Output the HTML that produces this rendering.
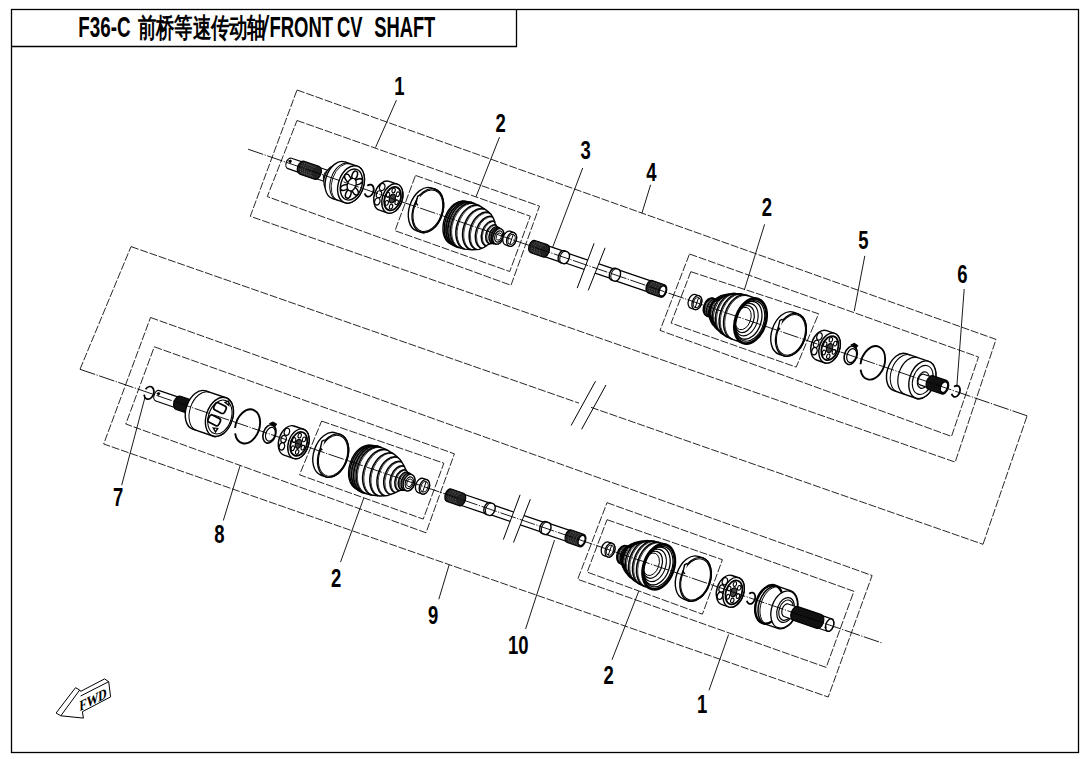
<!DOCTYPE html>
<html><head><meta charset="utf-8"><style>
html,body{margin:0;padding:0;background:#fff;}
svg{display:block;}
.lb{font-family:"Liberation Sans",sans-serif;font-weight:bold;font-size:25px;fill:#000;}
.ttl{font-family:"Liberation Sans",sans-serif;font-weight:bold;font-size:29px;fill:#000;}
.fwd{font-family:"Liberation Serif",serif;font-weight:bold;font-size:15px;fill:#000;}
</style></head><body>
<svg width="1090" height="759" viewBox="0 0 1090 759">
<rect width="1090" height="759" fill="#fff"/>
<text transform="translate(78.3,37) scale(0.649,1)" class="ttl">F36-C</text>
<text transform="translate(137.6,36.6) scale(0.681,1)" class="ttl" style="font-size:27px;font-weight:bold">前桥等速传动轴</text>
<text transform="translate(261.7,37) scale(0.95,1)" class="ttl" style="font-weight:normal">/</text>
<text transform="translate(269.4,37) scale(0.638,1)" class="ttl">FRONT</text>
<text transform="translate(337,37) scale(0.632,1)" class="ttl">CV</text>
<text transform="translate(374.2,37) scale(0.632,1)" class="ttl">SHAFT</text>
<rect x="11.5" y="9.5" width="1067" height="743" fill="none" stroke="#000" stroke-width="1.3"/>
<path d="M11.5,46.5 H516.5 V9.5" fill="none" stroke="#000" stroke-width="1.3"/>
<path d="M297,90 L996,339.4 L955.2,462.1 L250.3,216.3 Z" fill="none" stroke="#000" stroke-width="0.85" stroke-dasharray="8 1.8"/>
<path d="M297,120.5 L539.5,206.1 L511,285.3 L267.3,196.6 Z" fill="none" stroke="#000" stroke-width="0.85" stroke-dasharray="8 1.8"/>
<path d="M415.5,175.4 L530.3,216.2 L509.7,271.5 L395,230.7 Z" fill="none" stroke="#000" stroke-width="0.85" stroke-dasharray="8 1.8"/>
<path d="M689.5,254 L978.5,357 L951.5,436.4 L660,330.4 Z" fill="none" stroke="#000" stroke-width="0.85" stroke-dasharray="8 1.8"/>
<path d="M690.8,271.7 L818.6,313.8 L796.2,367.1 L671.1,323.1 Z" fill="none" stroke="#000" stroke-width="0.85" stroke-dasharray="8 1.8"/>
<path d="M150.5,317.5 L872.1,575.5 L828.2,697 L103.7,444 Z" fill="none" stroke="#000" stroke-width="0.85" stroke-dasharray="8 1.8"/>
<path d="M154.3,346.8 L454.4,453.8 L426,532.8 L125.8,424 Z" fill="none" stroke="#000" stroke-width="0.85" stroke-dasharray="8 1.8"/>
<path d="M321.6,421.1 L443.9,463.2 L423.2,519.1 L299.5,474.8 Z" fill="none" stroke="#000" stroke-width="0.85" stroke-dasharray="8 1.8"/>
<path d="M607,502.7 L853.9,591.3 L826.2,667.4 L577.7,579.3 Z" fill="none" stroke="#000" stroke-width="0.85" stroke-dasharray="8 1.8"/>
<path d="M607,519.7 L722.4,559.7 L702.4,614.2 L587.2,572.1 Z" fill="none" stroke="#000" stroke-width="0.85" stroke-dasharray="8 1.8"/>
<path d="M80,369.3 L131,246.6" fill="none" stroke="#000" stroke-width="0.85" stroke-dasharray="8 1.8"/>
<path d="M131,246.6 L579,403.14" fill="none" stroke="#000" stroke-width="0.85" stroke-dasharray="8 1.8"/>
<path d="M591,407.33 L983,544.3" fill="none" stroke="#000" stroke-width="0.85" stroke-dasharray="8 1.8"/>
<path d="M983,544.3 L1027.1,415.8" fill="none" stroke="#000" stroke-width="0.85" stroke-dasharray="8 1.8"/>
<line x1="595.5" y1="381.2" x2="571.1" y2="425.5" stroke="#000" stroke-width="1" />
<line x1="606" y1="385" x2="581.6" y2="429.3" stroke="#000" stroke-width="1" />
<line x1="396.4" y1="100.2" x2="375.5" y2="147.6" stroke="#000" stroke-width="0.9" />
<line x1="499.5" y1="137.1" x2="476" y2="196.9" stroke="#000" stroke-width="0.9" />
<line x1="582.7" y1="168" x2="552.8" y2="246.9" stroke="#000" stroke-width="0.9" />
<line x1="650.6" y1="184.8" x2="641.9" y2="213.2" stroke="#000" stroke-width="0.9" />
<line x1="764.6" y1="224.3" x2="744.3" y2="290.1" stroke="#000" stroke-width="0.9" />
<line x1="864.8" y1="255.9" x2="854.2" y2="311.2" stroke="#000" stroke-width="0.9" />
<line x1="964.2" y1="289" x2="956.8" y2="386.8" stroke="#000" stroke-width="0.9" />
<line x1="121.7" y1="485.2" x2="144.8" y2="398" stroke="#000" stroke-width="0.9" />
<line x1="223.3" y1="520.5" x2="240.2" y2="465.4" stroke="#000" stroke-width="0.9" />
<line x1="340.5" y1="562.1" x2="363.8" y2="498" stroke="#000" stroke-width="0.9" />
<line x1="438.8" y1="599.3" x2="449.1" y2="565" stroke="#000" stroke-width="0.9" />
<line x1="525.6" y1="629" x2="554.5" y2="540.1" stroke="#000" stroke-width="0.9" />
<line x1="612" y1="659.8" x2="638.8" y2="591.1" stroke="#000" stroke-width="0.9" />
<line x1="709" y1="690.3" x2="728.6" y2="634.5" stroke="#000" stroke-width="0.9" />
<g transform="translate(248.07,149.23) rotate(18.877)"><path d="M44,-5.5 L60,-5.5 A3.58,5.5 0 0 1 60,5.5 L44,5.5 A3.58,5.5 0 0 1 44,-5.5 Z" fill="#fff" stroke="#000" stroke-width="1.2"/><path d="M41.5,-2 l2,-2 l2,1 l-1,3 Z" fill="#000"/><path d="M66.5,-5.8 L86,-5.8 A3.77,5.8 0 0 1 86,5.8 L66.5,5.8 A3.77,5.8 0 0 1 66.5,-5.8 Z" fill="#fff" stroke="#000" stroke-width="1.1"/><path d="M57,-6.8 L72.5,-6.8 A4.42,6.8 0 0 1 72.5,6.8 L57,6.8 A4.42,6.8 0 0 1 57,-6.8 Z" fill="#222" stroke="#000" stroke-width="1.2"/><path d="M59.21,5.44 A3.54,5.44 0 0 1 59.21,-5.44" fill="none" stroke="#999" stroke-width="0.5" stroke-dasharray="1 1"/><path d="M61.43,5.44 A3.54,5.44 0 0 1 61.43,-5.44" fill="none" stroke="#999" stroke-width="0.5" stroke-dasharray="1 1"/><path d="M63.64,5.44 A3.54,5.44 0 0 1 63.64,-5.44" fill="none" stroke="#999" stroke-width="0.5" stroke-dasharray="1 1"/><path d="M65.86,5.44 A3.54,5.44 0 0 1 65.86,-5.44" fill="none" stroke="#999" stroke-width="0.5" stroke-dasharray="1 1"/><path d="M68.07,5.44 A3.54,5.44 0 0 1 68.07,-5.44" fill="none" stroke="#999" stroke-width="0.5" stroke-dasharray="1 1"/><path d="M70.29,5.44 A3.54,5.44 0 0 1 70.29,-5.44" fill="none" stroke="#999" stroke-width="0.5" stroke-dasharray="1 1"/><path d="M84,-6.2 L91,-13 A8.45,13 0 0 1 91,13 L84,6.2 A4.03,6.2 0 0 1 84,-6.2 Z" fill="#fff" stroke="#000" stroke-width="1"/><path d="M89.5,-13 L96.5,-19.3 A12.55,19.3 0 0 1 96.5,19.3 L89.5,13 A8.45,13 0 0 1 89.5,-13 Z" fill="#fff" stroke="#000" stroke-width="1.2"/><path d="M95.5,-19.3 L108.8,-19.3 A12.55,19.3 0 0 1 108.8,19.3 L95.5,19.3 A12.55,19.3 0 0 1 95.5,-19.3 Z" fill="#fff" stroke="#000" stroke-width="1.4"/><path d="M100.5,19.3 A12.55,19.3 0 0 1 100.5,-19.3" fill="none" stroke="#000" stroke-width="1"/><path d="M102,19.3 A12.55,19.3 0 0 1 102,-19.3" fill="none" stroke="#000" stroke-width="0.8"/><ellipse cx="108.8" cy="0" rx="12.55" ry="19.3" fill="#fff" stroke="#000" stroke-width="1.4"/><ellipse cx="109.2" cy="0" rx="10.4" ry="16" fill="#fff" stroke="#000" stroke-width="1.4"/><ellipse cx="114.93" cy="5" rx="4.2" ry="2.6" fill="#fff" stroke="#000" stroke-width="1.5" transform="rotate(41.61 114.93 5)"/><ellipse cx="109.3" cy="10" rx="4.2" ry="2.6" fill="#fff" stroke="#000" stroke-width="1.5" transform="rotate(90 109.3 10)"/><ellipse cx="103.67" cy="5" rx="4.2" ry="2.6" fill="#fff" stroke="#000" stroke-width="1.5" transform="rotate(138.39 103.67 5)"/><ellipse cx="103.67" cy="-5" rx="4.2" ry="2.6" fill="#fff" stroke="#000" stroke-width="1.5" transform="rotate(-138.39 103.67 -5)"/><ellipse cx="109.3" cy="-10" rx="4.2" ry="2.6" fill="#fff" stroke="#000" stroke-width="1.5" transform="rotate(-90 109.3 -10)"/><ellipse cx="114.93" cy="-5" rx="4.2" ry="2.6" fill="#fff" stroke="#000" stroke-width="1.5" transform="rotate(-41.61 114.93 -5)"/><ellipse cx="109.5" cy="0" rx="4.23" ry="6.5" fill="#fff" stroke="#000" stroke-width="1.3"/></g>
<g transform="translate(369.19,190.64) rotate(18.877)"><path d="M-3.32,-3.99 A4.34,6.2 0 1 1 -3.32,3.99" fill="none" stroke="#000" stroke-width="1.8"/></g>
<g transform="translate(388.3,197.18) rotate(18.877)"><path d="M-4.25,-15.2 L4.25,-15.2 A9.88,15.2 0 0 1 4.25,15.2 L-4.25,15.2 A9.88,15.2 0 0 1 -4.25,-15.2 Z" fill="#fff" stroke="#000" stroke-width="1.4"/><ellipse cx="-8.96" cy="-7.6" rx="2.6" ry="3.65" fill="#fff" stroke="#000" stroke-width="1.2"/><ellipse cx="-9.68" cy="0.3" rx="2.6" ry="3.65" fill="#fff" stroke="#000" stroke-width="1.2"/><ellipse cx="-8.96" cy="7.6" rx="2.6" ry="3.65" fill="#fff" stroke="#000" stroke-width="1.2"/><ellipse cx="4.25" cy="0" rx="9.88" ry="15.2" fill="#fff" stroke="#000" stroke-width="1.4"/><ellipse cx="4.55" cy="0" rx="7.9" ry="12.16" fill="#fff" stroke="#000" stroke-width="1.8"/><ellipse cx="9.5" cy="2.16" rx="1.6" ry="2.4" fill="#fff" stroke="#000" stroke-width="1.1"/><ellipse cx="5.66" cy="8.08" rx="1.6" ry="2.4" fill="#fff" stroke="#000" stroke-width="1.1"/><ellipse cx="0.41" cy="5.91" rx="1.6" ry="2.4" fill="#fff" stroke="#000" stroke-width="1.1"/><ellipse cx="-1" cy="-2.16" rx="1.6" ry="2.4" fill="#fff" stroke="#000" stroke-width="1.1"/><ellipse cx="2.84" cy="-8.08" rx="1.6" ry="2.4" fill="#fff" stroke="#000" stroke-width="1.1"/><ellipse cx="8.09" cy="-5.91" rx="1.6" ry="2.4" fill="#fff" stroke="#000" stroke-width="1.1"/><ellipse cx="4.25" cy="0" rx="2.96" ry="4.56" fill="#444" stroke="#000" stroke-width="1.2"/></g>
<g transform="translate(425.96,210.06) rotate(18.877)"><path d="M-2,-22.7 L2,-22.7 A14.76,22.7 0 0 1 2,22.7 L-2,22.7 A14.76,22.7 0 0 1 -2,-22.7 Z" fill="none" stroke="#000" stroke-width="1.4"/><ellipse cx="2" cy="0" rx="14.76" ry="22.7" fill="none" stroke="#000" stroke-width="1.4"/><ellipse cx="2" cy="0" rx="13.91" ry="21.4" fill="none" stroke="#000" stroke-width="1"/><path d="M-10.12,-12.49 l-2.2,2.2 l0.8,7 l2.4,1.5" fill="#fff" stroke="#000" stroke-width="1.4"/></g>
<g transform="translate(247.58,150.65) rotate(18.877)"><path d="M223,-22.5 L223,-22.5 L229,-23.5 L237,-23 L245,-21 L251,-18.5 L255,-15 L258,-11 L260,-9 L265,-8 A5.2,8 0 0 1 265,8 L265,8 L260,9 L258,11 L255,15 L251,18.5 L245,21 L237,23 L229,23.5 L223,22.5 A14.62,22.5 0 0 1 223,-22.5 Z" fill="#fff" stroke="#000" stroke-width="1.4" stroke-linejoin="round"/><path d="M224.5,22.75 A14.79,22.75 0 0 1 224.5,-22.75" fill="none" stroke="#000" stroke-width="1.5"/><path d="M225.6,22.52 A14.64,22.52 0 0 1 225.6,-22.52" fill="none" stroke="#000" stroke-width="0.7"/><path d="M226.8,23.13 A15.04,23.13 0 0 1 226.8,-23.13" fill="none" stroke="#000" stroke-width="1.5"/><path d="M227.9,22.9 A14.89,22.9 0 0 1 227.9,-22.9" fill="none" stroke="#000" stroke-width="0.7"/><path d="M229,23.5 A15.28,23.5 0 0 1 229,-23.5" fill="none" stroke="#000" stroke-width="1.5"/><path d="M230.1,23.27 A15.12,23.27 0 0 1 230.1,-23.27" fill="none" stroke="#000" stroke-width="0.7"/><path d="M231.5,23.34 A15.17,23.34 0 0 1 231.5,-23.34" fill="none" stroke="#000" stroke-width="1.5"/><path d="M232.6,23.11 A15.02,23.11 0 0 1 232.6,-23.11" fill="none" stroke="#000" stroke-width="0.7"/><path d="M237,23 A14.95,23 0 0 1 237,-23" fill="none" stroke="#000" stroke-width="1.5"/><path d="M238.1,22.77 A14.8,22.77 0 0 1 238.1,-22.77" fill="none" stroke="#000" stroke-width="0.7"/><path d="M243,21.5 A13.97,21.5 0 0 1 243,-21.5" fill="none" stroke="#000" stroke-width="1.5"/><path d="M244.1,21.29 A13.84,21.29 0 0 1 244.1,-21.29" fill="none" stroke="#000" stroke-width="0.7"/><path d="M248.5,19.54 A12.7,19.54 0 0 1 248.5,-19.54" fill="none" stroke="#000" stroke-width="1.5"/><path d="M249.6,19.35 A12.58,19.35 0 0 1 249.6,-19.35" fill="none" stroke="#000" stroke-width="0.7"/><path d="M253,16.75 A10.89,16.75 0 0 1 253,-16.75" fill="none" stroke="#000" stroke-width="1.5"/><path d="M254.1,16.58 A10.78,16.58 0 0 1 254.1,-16.58" fill="none" stroke="#000" stroke-width="0.7"/><path d="M256.5,13 A8.45,13 0 0 1 256.5,-13" fill="none" stroke="#000" stroke-width="1.5"/><path d="M257.6,12.87 A8.37,12.87 0 0 1 257.6,-12.87" fill="none" stroke="#000" stroke-width="0.7"/><path d="M259,10 A6.5,10 0 0 1 259,-10" fill="none" stroke="#000" stroke-width="1.5"/><path d="M260.1,9.9 A6.44,9.9 0 0 1 260.1,-9.9" fill="none" stroke="#000" stroke-width="0.7"/><path d="M261.5,8.7 A5.65,8.7 0 0 1 261.5,-8.7" fill="none" stroke="#000" stroke-width="1.5"/><path d="M262.6,8.61 A5.6,8.61 0 0 1 262.6,-8.61" fill="none" stroke="#000" stroke-width="0.7"/><path d="M263.5,8.3 A5.4,8.3 0 0 1 263.5,-8.3" fill="none" stroke="#000" stroke-width="1.5"/><path d="M264.6,8.22 A5.34,8.22 0 0 1 264.6,-8.22" fill="none" stroke="#000" stroke-width="0.7"/><ellipse cx="265" cy="0" rx="5.2" ry="8" fill="#fff" stroke="#000" stroke-width="1.4"/><ellipse cx="265.3" cy="0" rx="3.77" ry="5.8" fill="none" stroke="#000" stroke-width="1.1"/><ellipse cx="265.5" cy="0" rx="2.47" ry="3.8" fill="none" stroke="#000" stroke-width="0.9"/></g>
<g transform="translate(509.7,238.69) rotate(18.877)"><path d="M-2,-7.2 L2,-7.2 A4.68,7.2 0 0 1 2,7.2 L-2,7.2 A4.68,7.2 0 0 1 -2,-7.2 Z" fill="#fff" stroke="#000" stroke-width="1.3"/><ellipse cx="2" cy="0" rx="4.68" ry="7.2" fill="#fff" stroke="#000" stroke-width="1.3"/><ellipse cx="2" cy="0" rx="3.37" ry="5.18" fill="none" stroke="#000" stroke-width="1"/><line x1="2" y1="-5.18" x2="2" y2="5.18" stroke="#000" stroke-width="0.9"/></g>
<g transform="translate(248.07,149.23) rotate(18.877)"><path d="M313,-5.7 L333,-5.7 A3.42,5.7 0 0 1 333,5.7 L313,5.7 A3.42,5.7 0 0 1 313,-5.7 Z" fill="#fff" stroke="#000" stroke-width="1.25"/><path d="M334,-5 L387,-5 A3,5 0 0 1 387,5 L334,5 A3,5 0 0 1 334,-5 Z" fill="#fff" stroke="#000" stroke-width="1.25"/><path d="M388,-5.7 L426,-5.7 A3.42,5.7 0 0 1 426,5.7 L388,5.7 A3.42,5.7 0 0 1 388,-5.7 Z" fill="#fff" stroke="#000" stroke-width="1.25"/><path d="M332,-6.2 L335.4,-6.2 A3.72,6.2 0 0 1 335.4,6.2 L332,6.2 A3.72,6.2 0 0 1 332,-6.2 Z" fill="#fff" stroke="#000" stroke-width="1.4"/><path d="M333.7,6.2 A3.72,6.2 0 0 1 333.7,-6.2" fill="none" stroke="#000" stroke-width="1.0"/><path d="M386,-6.2 L389.4,-6.2 A3.72,6.2 0 0 1 389.4,6.2 L386,6.2 A3.72,6.2 0 0 1 386,-6.2 Z" fill="#fff" stroke="#000" stroke-width="1.4"/><path d="M387.7,6.2 A3.72,6.2 0 0 1 387.7,-6.2" fill="none" stroke="#000" stroke-width="1.0"/><path d="M301,-6.5 L314,-6.5 A3.9,6.5 0 0 1 314,6.5 L301,6.5 A3.9,6.5 0 0 1 301,-6.5 Z" fill="#222" stroke="#000" stroke-width="1.2"/><path d="M303.6,5.2 A3.12,5.2 0 0 1 303.6,-5.2" fill="none" stroke="#999" stroke-width="0.5" stroke-dasharray="1 1"/><path d="M306.2,5.2 A3.12,5.2 0 0 1 306.2,-5.2" fill="none" stroke="#999" stroke-width="0.5" stroke-dasharray="1 1"/><path d="M308.8,5.2 A3.12,5.2 0 0 1 308.8,-5.2" fill="none" stroke="#999" stroke-width="0.5" stroke-dasharray="1 1"/><path d="M311.4,5.2 A3.12,5.2 0 0 1 311.4,-5.2" fill="none" stroke="#999" stroke-width="0.5" stroke-dasharray="1 1"/><path d="M425,-6.5 L438,-6.5 A3.9,6.5 0 0 1 438,6.5 L425,6.5 A3.9,6.5 0 0 1 425,-6.5 Z" fill="#222" stroke="#000" stroke-width="1.2"/><path d="M427.6,5.2 A3.12,5.2 0 0 1 427.6,-5.2" fill="none" stroke="#999" stroke-width="0.5" stroke-dasharray="1 1"/><path d="M430.2,5.2 A3.12,5.2 0 0 1 430.2,-5.2" fill="none" stroke="#999" stroke-width="0.5" stroke-dasharray="1 1"/><path d="M432.8,5.2 A3.12,5.2 0 0 1 432.8,-5.2" fill="none" stroke="#999" stroke-width="0.5" stroke-dasharray="1 1"/><path d="M435.4,5.2 A3.12,5.2 0 0 1 435.4,-5.2" fill="none" stroke="#999" stroke-width="0.5" stroke-dasharray="1 1"/><ellipse cx="438" cy="0" rx="3.12" ry="5.2" fill="#fff" stroke="#000" stroke-width="1.3"/></g>
<path d="M590.38,253.16 L601.4,257.15 L592,280.95 L580.92,278.24 Z" fill="#fff" stroke="none"/>
<line x1="594.1" y1="243.3" x2="577.2" y2="288.1" stroke="#000" stroke-width="1.0" />
<line x1="605.1" y1="247.8" x2="588.3" y2="290.3" stroke="#000" stroke-width="1.0" />
<g transform="translate(694.97,302.04) rotate(18.877)"><path d="M-2,-7.2 L2,-7.2 A4.68,7.2 0 0 1 2,7.2 L-2,7.2 A4.68,7.2 0 0 1 -2,-7.2 Z" fill="#fff" stroke="#000" stroke-width="1.3"/><ellipse cx="2" cy="0" rx="4.68" ry="7.2" fill="#fff" stroke="#000" stroke-width="1.3"/><ellipse cx="2" cy="0" rx="3.37" ry="5.18" fill="none" stroke="#000" stroke-width="1"/><line x1="2" y1="-5.18" x2="2" y2="5.18" stroke="#000" stroke-width="0.9"/></g>
<g transform="translate(248.07,149.23) rotate(18.877)"><path d="M488,-9.5 L488,-9.5 L494,-9.5 L495.5,-12 L500,-16.5 L507,-20.5 L513,-22.5 L520,-23.2 L531,-23.2 A15.08,23.2 0 0 1 531,23.2 L531,23.2 L520,23.2 L513,22.5 L507,20.5 L500,16.5 L495.5,12 L494,9.5 L488,9.5 A6.17,9.5 0 0 1 488,-9.5 Z" fill="#fff" stroke="#000" stroke-width="1.4" stroke-linejoin="round"/><path d="M489,9.5 A6.17,9.5 0 0 1 489,-9.5" fill="none" stroke="#000" stroke-width="1.5"/><path d="M490.1,9.4 A6.11,9.4 0 0 1 490.1,-9.4" fill="none" stroke="#000" stroke-width="0.7"/><path d="M491.5,9.5 A6.17,9.5 0 0 1 491.5,-9.5" fill="none" stroke="#000" stroke-width="1.5"/><path d="M492.6,9.4 A6.11,9.4 0 0 1 492.6,-9.4" fill="none" stroke="#000" stroke-width="0.7"/><path d="M494,9.5 A6.17,9.5 0 0 1 494,-9.5" fill="none" stroke="#000" stroke-width="1.5"/><path d="M495.1,9.4 A6.11,9.4 0 0 1 495.1,-9.4" fill="none" stroke="#000" stroke-width="0.7"/><path d="M496.5,13 A8.45,13 0 0 1 496.5,-13" fill="none" stroke="#000" stroke-width="1.5"/><path d="M497.6,12.87 A8.37,12.87 0 0 1 497.6,-12.87" fill="none" stroke="#000" stroke-width="0.7"/><path d="M500,16.5 A10.72,16.5 0 0 1 500,-16.5" fill="none" stroke="#000" stroke-width="1.5"/><path d="M501.1,16.34 A10.62,16.34 0 0 1 501.1,-16.34" fill="none" stroke="#000" stroke-width="0.7"/><path d="M504.5,19.07 A12.4,19.07 0 0 1 504.5,-19.07" fill="none" stroke="#000" stroke-width="1.5"/><path d="M505.6,18.88 A12.27,18.88 0 0 1 505.6,-18.88" fill="none" stroke="#000" stroke-width="0.7"/><path d="M509.5,21.33 A13.87,21.33 0 0 1 509.5,-21.33" fill="none" stroke="#000" stroke-width="1.5"/><path d="M510.6,21.12 A13.73,21.12 0 0 1 510.6,-21.12" fill="none" stroke="#000" stroke-width="0.7"/><path d="M514.5,22.65 A14.72,22.65 0 0 1 514.5,-22.65" fill="none" stroke="#000" stroke-width="1.5"/><path d="M515.6,22.42 A14.58,22.42 0 0 1 515.6,-22.42" fill="none" stroke="#000" stroke-width="0.7"/><path d="M519.5,23.15 A15.05,23.15 0 0 1 519.5,-23.15" fill="none" stroke="#000" stroke-width="1.5"/><path d="M520.6,22.92 A14.9,22.92 0 0 1 520.6,-22.92" fill="none" stroke="#000" stroke-width="0.7"/><ellipse cx="531" cy="0" rx="15.08" ry="23.2" fill="#fff" stroke="#000" stroke-width="2.8"/><ellipse cx="530.7" cy="0" rx="13.58" ry="20.9" fill="none" stroke="#000" stroke-width="1.2"/><ellipse cx="528.8" cy="0" rx="12.67" ry="19.49" fill="none" stroke="#000" stroke-width="1.3"/><ellipse cx="526.8" cy="0" rx="10.86" ry="16.7" fill="none" stroke="#000" stroke-width="1.1"/><ellipse cx="524.8" cy="0" rx="9.05" ry="13.92" fill="none" stroke="#000" stroke-width="1.2"/><ellipse cx="523.2" cy="0" rx="7.54" ry="11.6" fill="none" stroke="#000" stroke-width="0.9"/></g>
<g transform="translate(788.55,334.03) rotate(18.877)"><path d="M-2.5,-22.2 L2.5,-22.2 A14.43,22.2 0 0 1 2.5,22.2 L-2.5,22.2 A14.43,22.2 0 0 1 -2.5,-22.2 Z" fill="none" stroke="#000" stroke-width="1.4"/><ellipse cx="2.5" cy="0" rx="14.43" ry="22.2" fill="none" stroke="#000" stroke-width="1.4"/><ellipse cx="2.5" cy="0" rx="13.58" ry="20.9" fill="none" stroke="#000" stroke-width="1"/><path d="M-10.44,-12.21 l-2.2,2.2 l0.8,7 l2.4,1.5" fill="#fff" stroke="#000" stroke-width="1.4"/></g>
<g transform="translate(825.55,346.69) rotate(18.877)"><path d="M-4.25,-15.5 L4.25,-15.5 A10.08,15.5 0 0 1 4.25,15.5 L-4.25,15.5 A10.08,15.5 0 0 1 -4.25,-15.5 Z" fill="#fff" stroke="#000" stroke-width="1.4"/><ellipse cx="-9.05" cy="-7.75" rx="2.6" ry="3.72" fill="#fff" stroke="#000" stroke-width="1.2"/><ellipse cx="-9.79" cy="0.31" rx="2.6" ry="3.72" fill="#fff" stroke="#000" stroke-width="1.2"/><ellipse cx="-9.05" cy="7.75" rx="2.6" ry="3.72" fill="#fff" stroke="#000" stroke-width="1.2"/><ellipse cx="4.25" cy="0" rx="10.08" ry="15.5" fill="#fff" stroke="#000" stroke-width="1.4"/><ellipse cx="4.55" cy="0" rx="8.06" ry="12.4" fill="#fff" stroke="#000" stroke-width="1.8"/><ellipse cx="9.6" cy="2.21" rx="1.6" ry="2.4" fill="#fff" stroke="#000" stroke-width="1.1"/><ellipse cx="5.68" cy="8.23" rx="1.6" ry="2.4" fill="#fff" stroke="#000" stroke-width="1.1"/><ellipse cx="0.33" cy="6.03" rx="1.6" ry="2.4" fill="#fff" stroke="#000" stroke-width="1.1"/><ellipse cx="-1.1" cy="-2.21" rx="1.6" ry="2.4" fill="#fff" stroke="#000" stroke-width="1.1"/><ellipse cx="2.82" cy="-8.23" rx="1.6" ry="2.4" fill="#fff" stroke="#000" stroke-width="1.1"/><ellipse cx="8.17" cy="-6.03" rx="1.6" ry="2.4" fill="#fff" stroke="#000" stroke-width="1.1"/><ellipse cx="4.25" cy="0" rx="3.02" ry="4.65" fill="#444" stroke="#000" stroke-width="1.2"/></g>
<g transform="translate(850.71,355.29) rotate(18.877)"><ellipse cx="0" cy="0" rx="6.17" ry="9.5" fill="none" stroke="#000" stroke-width="1.6"/><ellipse cx="1" cy="0" rx="4.63" ry="7.12" fill="none" stroke="#000" stroke-width="1.2"/><path d="M-3,-10 l2.5,-2.5 l4,1 l-1,3.5 Z" fill="#000" stroke="#000" stroke-width="1"/></g>
<g transform="translate(872.76,362.83) rotate(18.877)"><path d="M-11.12,5.32 A11.7,17.2 0 1 1 -9.34,10.35" fill="none" stroke="#000" stroke-width="1.9"/></g>
<g transform="translate(248.07,149.23) rotate(18.877)"><path d="M689,-19.5 L712.6,-19.5 A12.68,19.5 0 0 1 712.6,19.5 L689,19.5 A12.68,19.5 0 0 1 689,-19.5 Z" fill="#fff" stroke="#000" stroke-width="1.4"/><path d="M693,19.5 A12.68,19.5 0 0 1 693,-19.5" fill="none" stroke="#000" stroke-width="1"/><path d="M701,19.5 A12.68,19.5 0 0 1 701,-19.5" fill="none" stroke="#000" stroke-width="1.2"/><ellipse cx="712.6" cy="0" rx="12.68" ry="19.5" fill="#fff" stroke="#000" stroke-width="1.4"/><ellipse cx="713" cy="0" rx="9.75" ry="15" fill="none" stroke="#000" stroke-width="1.1"/><ellipse cx="713.5" cy="0" rx="5.53" ry="8.5" fill="none" stroke="#000" stroke-width="1.2"/><path d="M712,-5.6 L733,-5.6 A3.36,5.6 0 0 1 733,5.6 L712,5.6 A3.36,5.6 0 0 1 712,-5.6 Z" fill="#fff" stroke="#000" stroke-width="1.1"/><path d="M721.5,-7.2 L735.5,-7.2 A4.32,7.2 0 0 1 735.5,7.2 L721.5,7.2 A4.32,7.2 0 0 1 721.5,-7.2 Z" fill="#111" stroke="#000" stroke-width="1.2"/><ellipse cx="735.5" cy="0" rx="3.3" ry="5.5" fill="#fff" stroke="#000" stroke-width="1.3"/></g>
<g transform="translate(955.84,391.24) rotate(18.877)"><path d="M-3.11,-3.73 A4.06,5.8 0 1 1 -3.11,3.73" fill="none" stroke="#000" stroke-width="1.8"/></g>
<g transform="translate(148.99,392.84) rotate(18.84)"><path d="M-4.4,-2.22 A4.68,6.5 0 1 1 -4.05,3.25" fill="none" stroke="#000" stroke-width="1.7"/></g>
<g transform="translate(80,369.3) rotate(18.84)"><path d="M82,-5.5 L106,-5.5 A3.58,5.5 0 0 1 106,5.5 L82,5.5 A3.58,5.5 0 0 1 82,-5.5 Z" fill="#fff" stroke="#000" stroke-width="1.2"/><path d="M80,-2 l2,-2 l2,1 l-1,3 Z" fill="#000"/><path d="M104,-7 L121,-7 A4.55,7 0 0 1 121,7 L104,7 A4.55,7 0 0 1 104,-7 Z" fill="#111" stroke="#000" stroke-width="1.2"/><path d="M119,-7 L126.5,-20.2 A13.13,20.2 0 0 1 126.5,20.2 L119,7 A4.55,7 0 0 1 119,-7 Z" fill="#fff" stroke="#000" stroke-width="1.2"/><path d="M126,-20.2 L147.3,-20.2 A13.13,20.2 0 0 1 147.3,20.2 L126,20.2 A13.13,20.2 0 0 1 126,-20.2 Z" fill="#fff" stroke="#000" stroke-width="1.4"/><path d="M130,20.2 A13.13,20.2 0 0 1 130,-20.2" fill="none" stroke="#000" stroke-width="1"/><ellipse cx="147.3" cy="0" rx="13.13" ry="20.2" fill="#fff" stroke="#000" stroke-width="1.4"/><ellipse cx="147.8" cy="0" rx="11.38" ry="17.5" fill="#fff" stroke="#000" stroke-width="1.1"/><rect x="139" y="-12.5" width="12" height="8" rx="2.5" fill="#fff" stroke="#000" stroke-width="1.7" transform="rotate(8 145 -8.5)"/><rect x="137.5" y="1" width="12" height="8" rx="2.5" fill="#fff" stroke="#000" stroke-width="1.7" transform="rotate(8 143.5 5)"/><path d="M148,-15.5 l3,-2.5 l1.5,4 Z M145,12.5 l3.5,3 l1,-4 Z" fill="#fff" stroke="#000" stroke-width="1.3"/></g>
<g transform="translate(247.52,426.46) rotate(18.84)"><path d="M-11.32,5.41 A11.9,17.5 0 1 1 -9.5,10.53" fill="none" stroke="#000" stroke-width="1.9"/></g>
<g transform="translate(269.47,433.95) rotate(18.84)"><ellipse cx="0" cy="0" rx="6.17" ry="9.5" fill="none" stroke="#000" stroke-width="1.6"/><ellipse cx="1" cy="0" rx="4.63" ry="7.12" fill="none" stroke="#000" stroke-width="1.2"/><path d="M-3,-10 l2.5,-2.5 l4,1 l-1,3.5 Z" fill="#000" stroke="#000" stroke-width="1"/></g>
<g transform="translate(293.7,442.22) rotate(18.84)"><path d="M-5,-15.4 L5,-15.4 A10.01,15.4 0 0 1 5,15.4 L-5,15.4 A10.01,15.4 0 0 1 -5,-15.4 Z" fill="#fff" stroke="#000" stroke-width="1.4"/><ellipse cx="-9.77" cy="-7.7" rx="2.6" ry="3.7" fill="#fff" stroke="#000" stroke-width="1.2"/><ellipse cx="-10.5" cy="0.31" rx="2.6" ry="3.7" fill="#fff" stroke="#000" stroke-width="1.2"/><ellipse cx="-9.77" cy="7.7" rx="2.6" ry="3.7" fill="#fff" stroke="#000" stroke-width="1.2"/><ellipse cx="5" cy="0" rx="10.01" ry="15.4" fill="#fff" stroke="#000" stroke-width="1.4"/><ellipse cx="5.3" cy="0" rx="8.01" ry="12.32" fill="#fff" stroke="#000" stroke-width="1.8"/><ellipse cx="10.32" cy="2.19" rx="1.6" ry="2.4" fill="#fff" stroke="#000" stroke-width="1.1"/><ellipse cx="6.42" cy="8.18" rx="1.6" ry="2.4" fill="#fff" stroke="#000" stroke-width="1.1"/><ellipse cx="1.11" cy="5.99" rx="1.6" ry="2.4" fill="#fff" stroke="#000" stroke-width="1.1"/><ellipse cx="-0.32" cy="-2.19" rx="1.6" ry="2.4" fill="#fff" stroke="#000" stroke-width="1.1"/><ellipse cx="3.58" cy="-8.18" rx="1.6" ry="2.4" fill="#fff" stroke="#000" stroke-width="1.1"/><ellipse cx="8.89" cy="-5.99" rx="1.6" ry="2.4" fill="#fff" stroke="#000" stroke-width="1.1"/><ellipse cx="5" cy="0" rx="3" ry="4.62" fill="#444" stroke="#000" stroke-width="1.2"/></g>
<g transform="translate(330.71,454.84) rotate(18.84)"><path d="M-2.5,-22.4 L2.5,-22.4 A14.56,22.4 0 0 1 2.5,22.4 L-2.5,22.4 A14.56,22.4 0 0 1 -2.5,-22.4 Z" fill="none" stroke="#000" stroke-width="1.4"/><ellipse cx="2.5" cy="0" rx="14.56" ry="22.4" fill="none" stroke="#000" stroke-width="1.4"/><ellipse cx="2.5" cy="0" rx="13.71" ry="21.1" fill="none" stroke="#000" stroke-width="1"/><path d="M-10.51,-12.32 l-2.2,2.2 l0.8,7 l2.4,1.5" fill="#fff" stroke="#000" stroke-width="1.4"/></g>
<g transform="translate(79.68,370.25) rotate(18.84)"><path d="M301,-23 L301,-23 L307,-24.5 L316,-24 L325,-22 L332,-19 L337,-15 L341,-11 L343,-9.5 L348,-8.5 A5.53,8.5 0 0 1 348,8.5 L348,8.5 L343,9.5 L341,11 L337,15 L332,19 L325,22 L316,24 L307,24.5 L301,23 A14.95,23 0 0 1 301,-23 Z" fill="#fff" stroke="#000" stroke-width="1.4" stroke-linejoin="round"/><path d="M302.5,23.38 A15.19,23.38 0 0 1 302.5,-23.38" fill="none" stroke="#000" stroke-width="1.5"/><path d="M303.6,23.14 A15.04,23.14 0 0 1 303.6,-23.14" fill="none" stroke="#000" stroke-width="0.7"/><path d="M305,24 A15.6,24 0 0 1 305,-24" fill="none" stroke="#000" stroke-width="1.5"/><path d="M306.1,23.76 A15.44,23.76 0 0 1 306.1,-23.76" fill="none" stroke="#000" stroke-width="0.7"/><path d="M307.5,24.47 A15.91,24.47 0 0 1 307.5,-24.47" fill="none" stroke="#000" stroke-width="1.5"/><path d="M308.6,24.23 A15.75,24.23 0 0 1 308.6,-24.23" fill="none" stroke="#000" stroke-width="0.7"/><path d="M310,24.33 A15.82,24.33 0 0 1 310,-24.33" fill="none" stroke="#000" stroke-width="1.5"/><path d="M311.1,24.09 A15.66,24.09 0 0 1 311.1,-24.09" fill="none" stroke="#000" stroke-width="0.7"/><path d="M316.5,23.89 A15.53,23.89 0 0 1 316.5,-23.89" fill="none" stroke="#000" stroke-width="1.5"/><path d="M317.6,23.65 A15.37,23.65 0 0 1 317.6,-23.65" fill="none" stroke="#000" stroke-width="0.7"/><path d="M323,22.44 A14.59,22.44 0 0 1 323,-22.44" fill="none" stroke="#000" stroke-width="1.5"/><path d="M324.1,22.22 A14.44,22.22 0 0 1 324.1,-22.22" fill="none" stroke="#000" stroke-width="0.7"/><path d="M329,20.29 A13.19,20.29 0 0 1 329,-20.29" fill="none" stroke="#000" stroke-width="1.5"/><path d="M330.1,20.08 A13.05,20.08 0 0 1 330.1,-20.08" fill="none" stroke="#000" stroke-width="0.7"/><path d="M334,17.4 A11.31,17.4 0 0 1 334,-17.4" fill="none" stroke="#000" stroke-width="1.5"/><path d="M335.1,17.23 A11.2,17.23 0 0 1 335.1,-17.23" fill="none" stroke="#000" stroke-width="0.7"/><path d="M338,14 A9.1,14 0 0 1 338,-14" fill="none" stroke="#000" stroke-width="1.5"/><path d="M339.1,13.86 A9.01,13.86 0 0 1 339.1,-13.86" fill="none" stroke="#000" stroke-width="0.7"/><path d="M341,11 A7.15,11 0 0 1 341,-11" fill="none" stroke="#000" stroke-width="1.5"/><path d="M342.1,10.89 A7.08,10.89 0 0 1 342.1,-10.89" fill="none" stroke="#000" stroke-width="0.7"/><path d="M343.5,9.4 A6.11,9.4 0 0 1 343.5,-9.4" fill="none" stroke="#000" stroke-width="1.5"/><path d="M344.6,9.31 A6.05,9.31 0 0 1 344.6,-9.31" fill="none" stroke="#000" stroke-width="0.7"/><path d="M346,8.9 A5.79,8.9 0 0 1 346,-8.9" fill="none" stroke="#000" stroke-width="1.5"/><path d="M347.1,8.81 A5.73,8.81 0 0 1 347.1,-8.81" fill="none" stroke="#000" stroke-width="0.7"/><ellipse cx="348" cy="0" rx="5.53" ry="8.5" fill="#fff" stroke="#000" stroke-width="1.4"/><ellipse cx="348.3" cy="0" rx="3.9" ry="6" fill="none" stroke="#000" stroke-width="1.1"/><ellipse cx="348.5" cy="0" rx="2.6" ry="4" fill="none" stroke="#000" stroke-width="0.9"/></g>
<g transform="translate(422.51,486.17) rotate(18.84)"><path d="M-2,-7.5 L2,-7.5 A4.88,7.5 0 0 1 2,7.5 L-2,7.5 A4.88,7.5 0 0 1 -2,-7.5 Z" fill="#fff" stroke="#000" stroke-width="1.3"/><ellipse cx="2" cy="0" rx="4.88" ry="7.5" fill="#fff" stroke="#000" stroke-width="1.3"/><ellipse cx="2" cy="0" rx="3.51" ry="5.4" fill="none" stroke="#000" stroke-width="1"/><line x1="2" y1="-5.4" x2="2" y2="5.4" stroke="#000" stroke-width="0.9"/></g>
<g transform="translate(80,369.3) rotate(18.84)"><path d="M402,-5.7 L432,-5.7 A3.42,5.7 0 0 1 432,5.7 L402,5.7 A3.42,5.7 0 0 1 402,-5.7 Z" fill="#fff" stroke="#000" stroke-width="1.25"/><path d="M433,-5 L491,-5 A3,5 0 0 1 491,5 L433,5 A3,5 0 0 1 433,-5 Z" fill="#fff" stroke="#000" stroke-width="1.25"/><path d="M492,-5.7 L518,-5.7 A3.42,5.7 0 0 1 518,5.7 L492,5.7 A3.42,5.7 0 0 1 492,-5.7 Z" fill="#fff" stroke="#000" stroke-width="1.25"/><path d="M431,-6.2 L434.4,-6.2 A3.72,6.2 0 0 1 434.4,6.2 L431,6.2 A3.72,6.2 0 0 1 431,-6.2 Z" fill="#fff" stroke="#000" stroke-width="1.4"/><path d="M432.7,6.2 A3.72,6.2 0 0 1 432.7,-6.2" fill="none" stroke="#000" stroke-width="1.0"/><path d="M490,-6.2 L493.4,-6.2 A3.72,6.2 0 0 1 493.4,6.2 L490,6.2 A3.72,6.2 0 0 1 490,-6.2 Z" fill="#fff" stroke="#000" stroke-width="1.4"/><path d="M491.7,6.2 A3.72,6.2 0 0 1 491.7,-6.2" fill="none" stroke="#000" stroke-width="1.0"/><path d="M390,-6.6 L403,-6.6 A3.96,6.6 0 0 1 403,6.6 L390,6.6 A3.96,6.6 0 0 1 390,-6.6 Z" fill="#222" stroke="#000" stroke-width="1.2"/><path d="M392.6,5.28 A3.17,5.28 0 0 1 392.6,-5.28" fill="none" stroke="#999" stroke-width="0.5" stroke-dasharray="1 1"/><path d="M395.2,5.28 A3.17,5.28 0 0 1 395.2,-5.28" fill="none" stroke="#999" stroke-width="0.5" stroke-dasharray="1 1"/><path d="M397.8,5.28 A3.17,5.28 0 0 1 397.8,-5.28" fill="none" stroke="#999" stroke-width="0.5" stroke-dasharray="1 1"/><path d="M400.4,5.28 A3.17,5.28 0 0 1 400.4,-5.28" fill="none" stroke="#999" stroke-width="0.5" stroke-dasharray="1 1"/><path d="M517,-6.6 L530,-6.6 A3.96,6.6 0 0 1 530,6.6 L517,6.6 A3.96,6.6 0 0 1 517,-6.6 Z" fill="#222" stroke="#000" stroke-width="1.2"/><path d="M519.6,5.28 A3.17,5.28 0 0 1 519.6,-5.28" fill="none" stroke="#999" stroke-width="0.5" stroke-dasharray="1 1"/><path d="M522.2,5.28 A3.17,5.28 0 0 1 522.2,-5.28" fill="none" stroke="#999" stroke-width="0.5" stroke-dasharray="1 1"/><path d="M524.8,5.28 A3.17,5.28 0 0 1 524.8,-5.28" fill="none" stroke="#999" stroke-width="0.5" stroke-dasharray="1 1"/><path d="M527.4,5.28 A3.17,5.28 0 0 1 527.4,-5.28" fill="none" stroke="#999" stroke-width="0.5" stroke-dasharray="1 1"/><ellipse cx="530" cy="0" rx="3.17" ry="5.28" fill="#fff" stroke="#000" stroke-width="1.3"/></g>
<path d="M516.4,504.66 L526.68,508.73 L517.22,532.97 L507,529.74 Z" fill="#fff" stroke="none"/>
<line x1="520.1" y1="494.8" x2="503.3" y2="539.6" stroke="#000" stroke-width="1.0" />
<line x1="530.4" y1="499.2" x2="513.5" y2="542.5" stroke="#000" stroke-width="1.0" />
<g transform="translate(608.1,549.49) rotate(18.84)"><path d="M-2,-7.2 L2,-7.2 A4.68,7.2 0 0 1 2,7.2 L-2,7.2 A4.68,7.2 0 0 1 -2,-7.2 Z" fill="#fff" stroke="#000" stroke-width="1.3"/><ellipse cx="2" cy="0" rx="4.68" ry="7.2" fill="#fff" stroke="#000" stroke-width="1.3"/><ellipse cx="2" cy="0" rx="3.37" ry="5.18" fill="none" stroke="#000" stroke-width="1"/><line x1="2" y1="-5.18" x2="2" y2="5.18" stroke="#000" stroke-width="0.9"/></g>
<g transform="translate(80,369.3) rotate(18.84)"><path d="M574,-9.5 L574,-9.5 L579,-9.5 L580.5,-12 L585,-16.5 L592,-20.5 L598,-22.5 L604,-23.2 L611.5,-23.2 A15.08,23.2 0 0 1 611.5,23.2 L611.5,23.2 L604,23.2 L598,22.5 L592,20.5 L585,16.5 L580.5,12 L579,9.5 L574,9.5 A6.17,9.5 0 0 1 574,-9.5 Z" fill="#fff" stroke="#000" stroke-width="1.4" stroke-linejoin="round"/><path d="M575,9.5 A6.17,9.5 0 0 1 575,-9.5" fill="none" stroke="#000" stroke-width="1.5"/><path d="M576.1,9.4 A6.11,9.4 0 0 1 576.1,-9.4" fill="none" stroke="#000" stroke-width="0.7"/><path d="M577.5,9.5 A6.17,9.5 0 0 1 577.5,-9.5" fill="none" stroke="#000" stroke-width="1.5"/><path d="M578.6,9.4 A6.11,9.4 0 0 1 578.6,-9.4" fill="none" stroke="#000" stroke-width="0.7"/><path d="M580,11.17 A7.26,11.17 0 0 1 580,-11.17" fill="none" stroke="#000" stroke-width="1.5"/><path d="M581.1,11.05 A7.19,11.05 0 0 1 581.1,-11.05" fill="none" stroke="#000" stroke-width="0.7"/><path d="M582.5,14 A9.1,14 0 0 1 582.5,-14" fill="none" stroke="#000" stroke-width="1.5"/><path d="M583.6,13.86 A9.01,13.86 0 0 1 583.6,-13.86" fill="none" stroke="#000" stroke-width="0.7"/><path d="M586,17.07 A11.1,17.07 0 0 1 586,-17.07" fill="none" stroke="#000" stroke-width="1.5"/><path d="M587.1,16.9 A10.99,16.9 0 0 1 587.1,-16.9" fill="none" stroke="#000" stroke-width="0.7"/><path d="M590.5,19.64 A12.77,19.64 0 0 1 590.5,-19.64" fill="none" stroke="#000" stroke-width="1.5"/><path d="M591.6,19.45 A12.64,19.45 0 0 1 591.6,-19.45" fill="none" stroke="#000" stroke-width="0.7"/><path d="M595.5,21.67 A14.08,21.67 0 0 1 595.5,-21.67" fill="none" stroke="#000" stroke-width="1.5"/><path d="M596.6,21.45 A13.94,21.45 0 0 1 596.6,-21.45" fill="none" stroke="#000" stroke-width="0.7"/><path d="M600.5,22.79 A14.81,22.79 0 0 1 600.5,-22.79" fill="none" stroke="#000" stroke-width="1.5"/><path d="M601.6,22.56 A14.67,22.56 0 0 1 601.6,-22.56" fill="none" stroke="#000" stroke-width="0.7"/><path d="M605,23.2 A15.08,23.2 0 0 1 605,-23.2" fill="none" stroke="#000" stroke-width="1.5"/><path d="M606.1,22.97 A14.93,22.97 0 0 1 606.1,-22.97" fill="none" stroke="#000" stroke-width="0.7"/><ellipse cx="611.5" cy="0" rx="15.08" ry="23.2" fill="#fff" stroke="#000" stroke-width="2.8"/><ellipse cx="611.2" cy="0" rx="13.58" ry="20.9" fill="none" stroke="#000" stroke-width="1.2"/><ellipse cx="609.3" cy="0" rx="12.67" ry="19.49" fill="none" stroke="#000" stroke-width="1.3"/><ellipse cx="607.3" cy="0" rx="10.86" ry="16.7" fill="none" stroke="#000" stroke-width="1.1"/><ellipse cx="605.3" cy="0" rx="9.05" ry="13.92" fill="none" stroke="#000" stroke-width="1.2"/><ellipse cx="603.7" cy="0" rx="7.54" ry="11.6" fill="none" stroke="#000" stroke-width="0.9"/></g>
<g transform="translate(693.28,578.56) rotate(18.84)"><path d="M-2.4,-22.6 L2.4,-22.6 A14.69,22.6 0 0 1 2.4,22.6 L-2.4,22.6 A14.69,22.6 0 0 1 -2.4,-22.6 Z" fill="none" stroke="#000" stroke-width="1.4"/><ellipse cx="2.4" cy="0" rx="14.69" ry="22.6" fill="none" stroke="#000" stroke-width="1.4"/><ellipse cx="2.4" cy="0" rx="13.85" ry="21.3" fill="none" stroke="#000" stroke-width="1"/><path d="M-10.48,-12.43 l-2.2,2.2 l0.8,7 l2.4,1.5" fill="#fff" stroke="#000" stroke-width="1.4"/></g>
<g transform="translate(730.29,591.18) rotate(18.84)"><path d="M-3.5,-15.4 L3.5,-15.4 A10.01,15.4 0 0 1 3.5,15.4 L-3.5,15.4 A10.01,15.4 0 0 1 -3.5,-15.4 Z" fill="#fff" stroke="#000" stroke-width="1.4"/><ellipse cx="-8.27" cy="-7.7" rx="2.6" ry="3.7" fill="#fff" stroke="#000" stroke-width="1.2"/><ellipse cx="-9" cy="0.31" rx="2.6" ry="3.7" fill="#fff" stroke="#000" stroke-width="1.2"/><ellipse cx="-8.27" cy="7.7" rx="2.6" ry="3.7" fill="#fff" stroke="#000" stroke-width="1.2"/><ellipse cx="3.5" cy="0" rx="10.01" ry="15.4" fill="#fff" stroke="#000" stroke-width="1.4"/><ellipse cx="3.8" cy="0" rx="8.01" ry="12.32" fill="#fff" stroke="#000" stroke-width="1.8"/><ellipse cx="8.82" cy="2.19" rx="1.6" ry="2.4" fill="#fff" stroke="#000" stroke-width="1.1"/><ellipse cx="4.92" cy="8.18" rx="1.6" ry="2.4" fill="#fff" stroke="#000" stroke-width="1.1"/><ellipse cx="-0.39" cy="5.99" rx="1.6" ry="2.4" fill="#fff" stroke="#000" stroke-width="1.1"/><ellipse cx="-1.82" cy="-2.19" rx="1.6" ry="2.4" fill="#fff" stroke="#000" stroke-width="1.1"/><ellipse cx="2.08" cy="-8.18" rx="1.6" ry="2.4" fill="#fff" stroke="#000" stroke-width="1.1"/><ellipse cx="7.39" cy="-5.99" rx="1.6" ry="2.4" fill="#fff" stroke="#000" stroke-width="1.1"/><ellipse cx="3.5" cy="0" rx="3" ry="4.62" fill="#444" stroke="#000" stroke-width="1.2"/></g>
<g transform="translate(751.01,598.25) rotate(18.84)"><path d="M-3.11,-3.73 A4.06,5.8 0 1 1 -3.11,3.73" fill="none" stroke="#000" stroke-width="1.8"/></g>
<g transform="translate(80,369.3) rotate(18.84)"><path d="M728,-19.9 L744,-19.9 A12.93,19.9 0 0 1 744,19.9 L728,19.9 A12.93,19.9 0 0 1 728,-19.9 Z" fill="#fff" stroke="#000" stroke-width="1.3"/><ellipse cx="728" cy="0" rx="12.93" ry="19.9" fill="none" stroke="#000" stroke-width="2.4"/><path d="M731,19.9 A12.93,19.9 0 0 1 731,-19.9" fill="none" stroke="#000" stroke-width="1.5"/><path d="M733,19.9 A12.93,19.9 0 0 1 733,-19.9" fill="none" stroke="#000" stroke-width="0.9"/><ellipse cx="744" cy="0" rx="12.48" ry="19.2" fill="#fff" stroke="#000" stroke-width="1.3"/><ellipse cx="745.5" cy="0" rx="8.32" ry="12.8" fill="#fff" stroke="#000" stroke-width="1.2"/><ellipse cx="746" cy="0" rx="6.83" ry="10.5" fill="none" stroke="#000" stroke-width="1.1"/><path d="M746,-6.6 L792,-6.6 A3.96,6.6 0 0 1 792,6.6 L746,6.6 A3.96,6.6 0 0 1 746,-6.6 Z" fill="#fff" stroke="#000" stroke-width="1.2"/><path d="M756,-7.2 L781,-7.2 A4.32,7.2 0 0 1 781,7.2 L756,7.2 A4.32,7.2 0 0 1 756,-7.2 Z" fill="#111" stroke="#000" stroke-width="1.2"/><ellipse cx="792.1" cy="0" rx="3.84" ry="6.4" fill="#fff" stroke="#000" stroke-width="1.4"/><ellipse cx="789" cy="3.5" rx="1" ry="1.2" fill="#000"/></g>
<path d="M248.07,149.23 L1027.1,415.8" fill="none" stroke="#000" stroke-width="0.9" stroke-dasharray="16 1.5 1.2 1.5"/>
<path d="M80,369.3 L882.1,643" fill="none" stroke="#000" stroke-width="0.9" stroke-dasharray="16 1.5 1.2 1.5"/>
<text x="0" y="0" transform="translate(399.35,94.8) scale(0.74,1)" text-anchor="middle" class="lb">1</text>
<text x="0" y="0" transform="translate(500.55,131.8) scale(0.74,1)" text-anchor="middle" class="lb">2</text>
<text x="0" y="0" transform="translate(585.65,159.4) scale(0.74,1)" text-anchor="middle" class="lb">3</text>
<text x="0" y="0" transform="translate(651.35,180.5) scale(0.74,1)" text-anchor="middle" class="lb">4</text>
<text x="0" y="0" transform="translate(767,216) scale(0.74,1)" text-anchor="middle" class="lb">2</text>
<text x="0" y="0" transform="translate(863.45,248.5) scale(0.74,1)" text-anchor="middle" class="lb">5</text>
<text x="0" y="0" transform="translate(962.3,283.1) scale(0.74,1)" text-anchor="middle" class="lb">6</text>
<text x="0" y="0" transform="translate(118.1,506) scale(0.74,1)" text-anchor="middle" class="lb">7</text>
<text x="0" y="0" transform="translate(219.3,542.7) scale(0.74,1)" text-anchor="middle" class="lb">8</text>
<text x="0" y="0" transform="translate(336.05,586.7) scale(0.74,1)" text-anchor="middle" class="lb">2</text>
<text x="0" y="0" transform="translate(433.2,624.2) scale(0.74,1)" text-anchor="middle" class="lb">9</text>
<text x="0" y="0" transform="translate(518.3,654.4) scale(0.74,1)" text-anchor="middle" class="lb">10</text>
<text x="0" y="0" transform="translate(608.55,684) scale(0.74,1)" text-anchor="middle" class="lb">2</text>
<text x="0" y="0" transform="translate(702.1,712.5) scale(0.74,1)" text-anchor="middle" class="lb">1</text>
<path d="M56.1,713 L75.5,687.7 L79.7,690 L80.6,691.4 L104.6,678.9 L108.7,681.7 L110.6,696.9 L82.4,711.7 L83.4,718.1 L60.8,715.8 Z" fill="#fff" stroke="#000" stroke-width="1"/>
<path d="M60.8,715.8 L79.7,690 M80.6,696 L108.7,681.7" fill="none" stroke="#000" stroke-width="1"/>
<text transform="translate(79.5,711.5) skewY(-27) scale(0.78,1)" class="fwd">FWD</text>
</svg>
</body></html>
